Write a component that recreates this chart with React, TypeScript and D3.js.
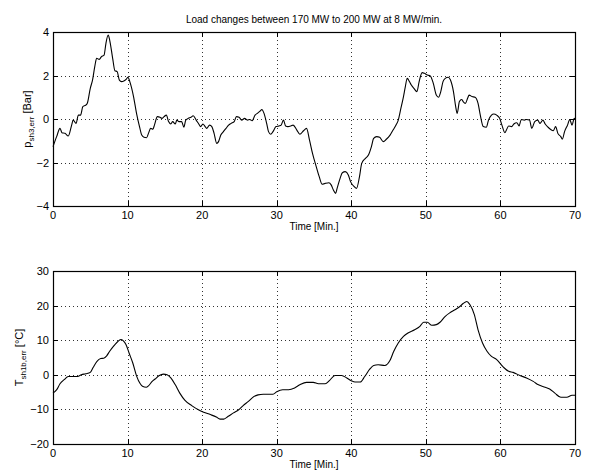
import React, { useRef, useEffect } from 'react';
import * as d3 from 'd3';

// Pressure error (upper plot)
const pressTime = [
  0, 0.5, 0.94, 1.2, 1.6, 2.05, 2.5, 2.7, 3.1, 3.4, 3.7, 4.0, 4.4, 4.6, 5.0, 5.3, 5.6, 5.85, 6.2, 6.5,
  6.85, 7.1, 7.4, 7.6, 8.0, 8.3, 8.6, 8.9, 9.2, 9.5, 9.8, 10.05, 10.3, 10.8, 11.2, 11.6, 11.9, 12.2, 12.55, 12.8,
  13.1, 13.4, 13.6, 14.0, 14.35, 14.6, 14.9, 15.2, 15.5, 15.8, 16.05, 16.4, 16.6, 16.9, 17.25, 17.55, 17.8, 18.15, 18.5, 18.8,
  19.2, 19.55, 19.8, 20.1, 20.4, 20.6, 21.0, 21.3, 21.6, 21.95, 22.2, 22.5, 22.85, 23.2, 23.55, 23.9, 24.3, 24.6, 24.95, 25.3,
  25.7, 26.05, 26.4, 26.7, 27.1, 27.4, 27.8, 28.0, 28.3, 28.65, 28.9, 29.2, 29.5, 29.9, 30.3, 30.6, 30.9, 31.2, 31.5, 31.9,
  32.2, 32.7, 33.1, 33.6, 34.0, 34.4, 34.8, 35.3, 35.7, 36.1, 36.5, 37.0, 37.3, 37.6, 37.9, 38.1, 38.5, 38.8, 39.2, 39.6,
  39.9, 40.4, 40.7, 41.1, 41.4, 41.9, 42.3, 42.7, 43.0, 43.4, 43.8, 44.3, 44.7, 45.2, 45.6, 46.0, 46.3, 46.6, 47.0, 47.25,
  47.5, 47.8, 48.05, 48.4, 48.8, 49.1, 49.5, 49.8, 50.2, 50.6, 51.0, 51.4, 51.7, 52.0, 52.3, 52.6, 53.0, 53.3, 53.7, 54.0,
  54.2, 54.5, 54.8, 55.0, 55.3, 55.6, 55.8, 56.2, 56.6, 57.0, 57.3, 57.7, 58.1, 58.4, 58.8, 59.1, 59.5, 59.9, 60.2, 60.6,
  60.8, 61.1, 61.5, 61.8, 62.2, 62.5, 62.8, 63.2, 63.5, 63.9, 64.2, 64.6, 65.0, 65.3, 65.7, 66.0, 66.4, 66.7, 67.1, 67.4,
  67.7, 68.1, 68.3, 68.6, 69.0, 69.3, 69.6, 69.9, 70.0,
];
const pressValue = [
  -1.27, -0.8, -0.43, -0.63, -0.66, -0.78, -0.28, -0.05, -0.2, 0.18, 0.18, 0.57, 0.64, 0.72, 1.41, 1.79, 2.41, 2.79, 2.74, 2.87,
  2.94, 3.48, 3.86, 3.63, 2.79, 2.22, 2.18, 1.79, 1.72, 1.75, 1.82, 1.92, 1.72, 1.03, 0.26, -0.35, -0.74, -0.84, -0.86, -0.66,
  -0.43, -0.47, -0.28, 0.11, 0.08, 0.03, 0.11, 0.18, -0.12, -0.23, -0.12, -0.23, -0.05, -0.12, -0.12, -0.38, -0.05, 0.03, 0.08, 0.15,
  -0.05, -0.23, -0.35, -0.23, -0.35, -0.43, -0.28, -0.35, -0.66, -1.12, -1.04, -0.74, -0.58, -0.43, -0.28, -0.2, -0.12, 0.11, 0.08, -0.05,
  0.03, -0.05, -0.02, -0.08, 0.18, 0.26, 0.37, 0.44, 0.26, -0.2, -0.58, -0.7, -0.58, -0.35, -0.32, -0.28, -0.05, -0.32, -0.35, -0.32,
  -0.28, -0.51, -0.7, -0.54, -0.43, -0.97, -1.58, -2.19, -2.65, -3.0, -2.96, -2.93, -3.03, -3.26, -3.42, -3.19, -2.73, -2.47, -2.42, -2.57,
  -2.88, -3.11, -3.19, -2.65, -2.04, -1.81, -1.66, -1.27, -0.89, -0.81, -0.84, -1.04, -0.93, -0.74, -0.51, -0.28, -0.05, 0.41, 1.03, 1.49,
  1.87, 1.72, 1.56, 1.41, 1.26, 1.72, 2.13, 2.1, 2.02, 1.98, 1.64, 1.1, 1.0, 1.26, 1.72, 1.87, 1.92, 1.79, 1.26, 0.57,
  0.26, 0.8, 0.9, 0.8, 0.72, 0.95, 1.1, 1.03, 1.0, 0.72, 0.18, -0.35, -0.38, -0.05, 0.18, 0.23, 0.18, 0.03, -0.28, -0.63,
  -0.51, -0.32, -0.35, -0.23, -0.17, -0.32, -0.02, -0.05, -0.02, -0.05, -0.43, -0.12, -0.05, -0.2, -0.05, -0.23, -0.38, -0.47, -0.54, -0.35,
  -0.66, -0.81, -0.93, -0.58, -0.28, -0.02, -0.28, 0.03, -0.02,
];

// Temperature error (lower plot)
const tempTime = [
  0, 0.5, 0.94, 1.5, 2.05, 2.5, 3.3, 3.8, 4.4, 5.0, 5.4, 5.9, 6.4, 6.8, 7.2, 7.6, 8.1, 8.6, 9.1, 9.4,
  9.8, 10.2, 10.7, 11.2, 11.7, 12.0, 12.5, 12.8, 13.3, 13.7, 14.2, 14.8, 15.3, 15.8, 16.4, 17.0, 17.7, 18.6, 19.5, 20.2,
  21.1, 21.9, 22.4, 22.9, 23.5, 24.2, 24.9, 25.5, 26.2, 27.0, 27.5, 28.2, 29.5, 30.0, 30.8, 31.6, 32.4, 33.1, 34.0, 34.9,
  35.6, 36.5, 37.1, 37.8, 38.7, 39.4, 40.0, 40.5, 41.2, 41.8, 42.5, 43.0, 43.6, 44.5, 45.2, 45.7, 46.3, 47.0, 47.6, 48.5,
  49.2, 49.7, 50.2, 50.8, 51.4, 51.9, 52.6, 53.2, 53.9, 54.6, 55.0, 55.5, 55.9, 56.5, 57.0, 57.6, 58.2, 58.8, 59.5, 60.4,
  61.1, 61.7, 62.6, 63.5, 64.4, 65.1, 66.0, 66.6, 67.3, 68.1, 68.9, 69.6, 70.0,
];
const tempValue = [
  -5.3, -4.3, -2.6, -1.4, -0.5, -0.5, -0.5, 0.0, 0.3, 0.7, 2.2, 3.9, 4.7, 4.8, 5.5, 6.8, 8.2, 9.4, 10.2, 9.9,
  8.7, 6.3, 3.4, -0.3, -2.6, -3.3, -3.6, -3.2, -1.9, -1.2, -0.3, 0.2, 0.0, -0.9, -2.9, -5.3, -7.4, -8.9, -10.1, -10.8,
  -11.5, -12.2, -12.8, -12.8, -12.0, -11.0, -10.1, -8.9, -7.7, -6.2, -5.8, -5.6, -5.6, -4.9, -4.3, -4.3, -3.8, -2.9, -2.2, -2.2,
  -2.6, -2.6, -1.6, -0.2, -0.2, -0.9, -1.7, -2.1, -2.1, -0.5, 1.7, 2.7, 2.9, 2.7, 4.2, 6.8, 9.2, 11.1, 12.1, 13.0,
  14.0, 15.2, 15.2, 14.3, 14.5, 15.2, 16.9, 17.9, 18.8, 19.8, 20.6, 21.2, 20.3, 17.4, 13.0, 9.2, 6.8, 5.3, 4.4, 2.2,
  1.0, 0.7, -0.2, -0.9, -1.9, -2.9, -3.6, -4.1, -5.3, -6.5, -6.5, -5.9, -5.9,
];

const xTicks = [0, 10, 20, 30, 40, 50, 60, 70];
const pressTicks = [-4, -2, 0, 2, 4];
const tempTicks = [-20, -10, 0, 10, 20, 30];

const title = 'Load changes between 170 MW to 200 MW at 8 MW/min.';
const xLabel = 'Time [Min.]';

const W = 590;
const H = 473;
const FONT = '"Liberation Sans", Arial, Helvetica, sans-serif';

const App = () => {
  const chartRef = useRef<SVGSVGElement | null>(null);

  useEffect(() => {
    document.body.style.margin = '0';
    const svg = d3.select(chartRef.current);
    svg.selectAll('*').remove();

    const left = 53;
    const right = 575;

    const drawPanel = (
      times: number[],
      values: number[],
      yTicks: number[],
      top: number,
      bottom: number,
      labelX: number,
      labelMain: string,
      labelSub: string,
      labelUnit: string,
    ) => {
      const x = d3.scaleLinear().domain([0, 70]).range([left, right]);
      const y = d3.scaleLinear().domain([yTicks[0], yTicks[yTicks.length - 1]]).range([bottom, top]);
      const g = svg.append('g');

      // dotted grid
      g.selectAll('.vgrid')
        .data(xTicks.slice(1, -1))
        .enter()
        .append('line')
        .attr('x1', (d) => Math.round(x(d)) + 0.5)
        .attr('x2', (d) => Math.round(x(d)) + 0.5)
        .attr('y1', top)
        .attr('y2', bottom)
        .attr('stroke', '#333')
        .attr('stroke-width', 1)
        .attr('stroke-dasharray', '1,3');
      g.selectAll('.hgrid')
        .data(yTicks.slice(1, -1))
        .enter()
        .append('line')
        .attr('x1', left)
        .attr('x2', right)
        .attr('y1', (d) => Math.round(y(d)) + 0.5)
        .attr('y2', (d) => Math.round(y(d)) + 0.5)
        .attr('stroke', '#333')
        .attr('stroke-width', 1)
        .attr('stroke-dasharray', '1,3');

      // line
      const line = d3
        .line<number>()
        .x((_, i) => x(times[i]))
        .y((d) => y(d))
        .curve(d3.curveMonotoneX);
      g.append('path')
        .datum(values)
        .attr('d', line)
        .attr('fill', 'none')
        .attr('stroke', '#000')
        .attr('stroke-width', 1.1);

      // inward ticks on all sides
      const tl = 5;
      xTicks.forEach((t) => {
        const px = Math.round(x(t)) + 0.5;
        g.append('line').attr('x1', px).attr('x2', px).attr('y1', bottom).attr('y2', bottom - tl).attr('stroke', '#000');
        g.append('line').attr('x1', px).attr('x2', px).attr('y1', top).attr('y2', top + tl).attr('stroke', '#000');
      });
      yTicks.forEach((t) => {
        const py = Math.round(y(t)) + 0.5;
        g.append('line').attr('x1', left).attr('x2', left + tl).attr('y1', py).attr('y2', py).attr('stroke', '#000');
        g.append('line').attr('x1', right).attr('x2', right - tl).attr('y1', py).attr('y2', py).attr('stroke', '#000');
      });

      // frame
      g.append('rect')
        .attr('x', left + 0.5)
        .attr('y', Math.round(top) + 0.5)
        .attr('width', right - left)
        .attr('height', Math.round(bottom) - Math.round(top))
        .attr('fill', 'none')
        .attr('stroke', '#000')
        .attr('stroke-width', 1.2);

      // tick labels
      g.selectAll('.xl')
        .data(xTicks)
        .enter()
        .append('text')
        .attr('x', (d) => x(d))
        .attr('y', bottom + 13)
        .attr('text-anchor', 'middle')
        .attr('font-size', 11)
        .text((d) => d3.format('d')(d));
      g.selectAll('.yl')
        .data(yTicks)
        .enter()
        .append('text')
        .attr('x', left - 4)
        .attr('y', (d) => y(d) + 4)
        .attr('text-anchor', 'end')
        .attr('font-size', 11)
        .text((d) => d3.format('d')(d));

      g.append('text')
        .attr('x', (left + right) / 2)
        .attr('y', bottom + 24)
        .attr('text-anchor', 'middle')
        .attr('font-size', 10)
        .text(xLabel);

      const yl = g
        .append('text')
        .attr('transform', `translate(${labelX},${(top + bottom) / 2}) rotate(-90)`)
        .attr('text-anchor', 'middle')
        .attr('font-size', 11);
      yl.append('tspan').text(labelMain);
      yl.append('tspan').attr('font-size', 8).attr('dy', 3).text(labelSub);
      yl.append('tspan').attr('dy', -3).text(' ' + labelUnit);
    };

    svg.attr('font-family', FONT).attr('fill', '#000');

    svg.append('text')
      .attr('x', 314)
      .attr('y', 23)
      .attr('text-anchor', 'middle')
      .attr('font-size', 10)
      .text(title);

    drawPanel(pressTime, pressValue, pressTicks, 32, 206, 31, 'p', 'sh3,err', '[Bar]');
    drawPanel(tempTime, tempValue, tempTicks, 271, 444, 23, 'T', 'sh1b,err', '[°C]');

    return () => {
      svg.selectAll('*').remove();
    };
  }, []);

  return <svg ref={chartRef} width={W} height={H} style={{ display: 'block', background: '#fff' }} />;
};

export default App;
